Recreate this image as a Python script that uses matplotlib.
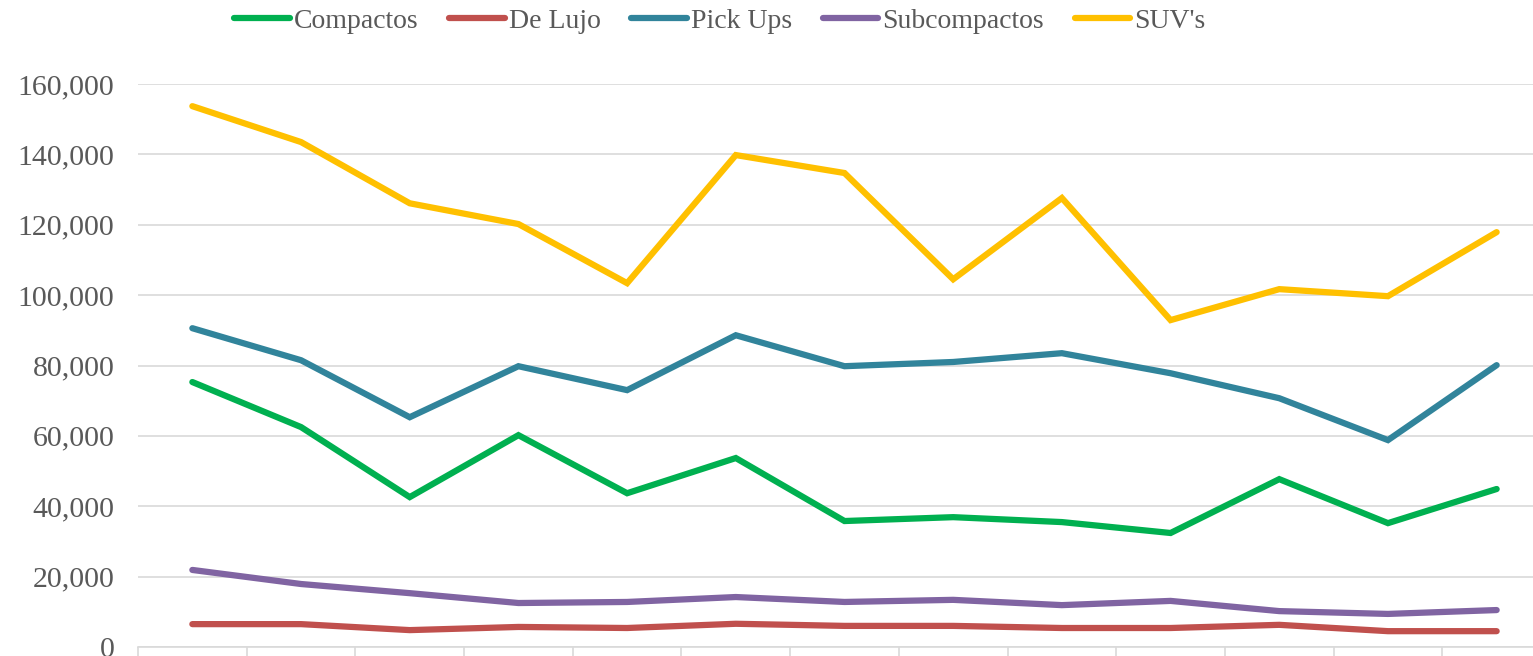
import numpy as np
import matplotlib.pyplot as plt

plt.rcParams['font.family'] = ['Liberation Serif', 'DejaVu Serif']

# values (13 periods, x labels not visible)
compactos = [75300, 62500, 42600, 60200, 43700, 53700, 35800, 36900, 35500, 32400, 47700, 35200, 44900]
de_lujo = [6500, 6500, 4800, 5700, 5400, 6600, 6000, 6000, 5400, 5400, 6300, 4500, 4500]
pick_ups = [90600, 81500, 65300, 79800, 73000, 88600, 79800, 81000, 83500, 77800, 70700, 58800, 80100]
subcompactos = [21900, 17900, 15300, 12500, 12800, 14200, 12800, 13400, 11900, 13100, 10200, 9400, 10500]
suvs = [153700, 143500, 126100, 120200, 103400, 139800, 134700, 104500, 127600, 92900, 101700, 99700, 117900]

series = [
    ("Compactos", compactos, "#00B050"),
    ("De Lujo", de_lujo, "#C0504D"),
    ("Pick Ups", pick_ups, "#31849B"),
    ("Subcompactos", subcompactos, "#8064A2"),
    ("SUV's", suvs, "#FFC000"),
]

fig = plt.figure(figsize=(15.33, 6.56), dpi=100)
# plot area runs past the right edge, like the cropped original
ax = fig.add_axes([138 / 1533, 9 / 656, 1413 / 1533, 563 / 656])

x = np.arange(len(compactos))
for name, vals, col in series:
    ax.plot(x, vals, color=col, lw=4.5, label=name, solid_capstyle='round',
            solid_joinstyle='miter')

ax.set_xlim(-0.5, len(x) - 0.5)
ax.set_ylim(0, 160000)
ax.set_yticks(np.arange(0, 160001, 20000))
ax.set_yticklabels([f"{v:,}" for v in range(0, 160001, 20000)])
ax.set_xticks(np.arange(-0.5, len(x), 1.0))
ax.set_xticklabels([])

ax.grid(axis='y', color='#D9D9D9', lw=1.2)
ax.set_axisbelow(True)
for s in ['top', 'right', 'left']:
    ax.spines[s].set_visible(False)
ax.spines['bottom'].set_color('#D9D9D9')
ax.spines['bottom'].set_linewidth(1.2)
ax.tick_params(axis='x', direction='out', length=10, color='#D9D9D9', width=1.2)
ax.tick_params(axis='y', length=0, pad=17, labelsize=21.5, labelcolor='#595959')

leg = fig.legend(loc='center', bbox_to_anchor=(720 / 1533, 1 - 21 / 656), ncol=5,
                 frameon=False, fontsize=20, handlelength=2.0, handletextpad=0.15,
                 columnspacing=1.1, borderaxespad=0)
for t in leg.get_texts():
    t.set_color('#595959')

fig.savefig('out.png', dpi=100)
